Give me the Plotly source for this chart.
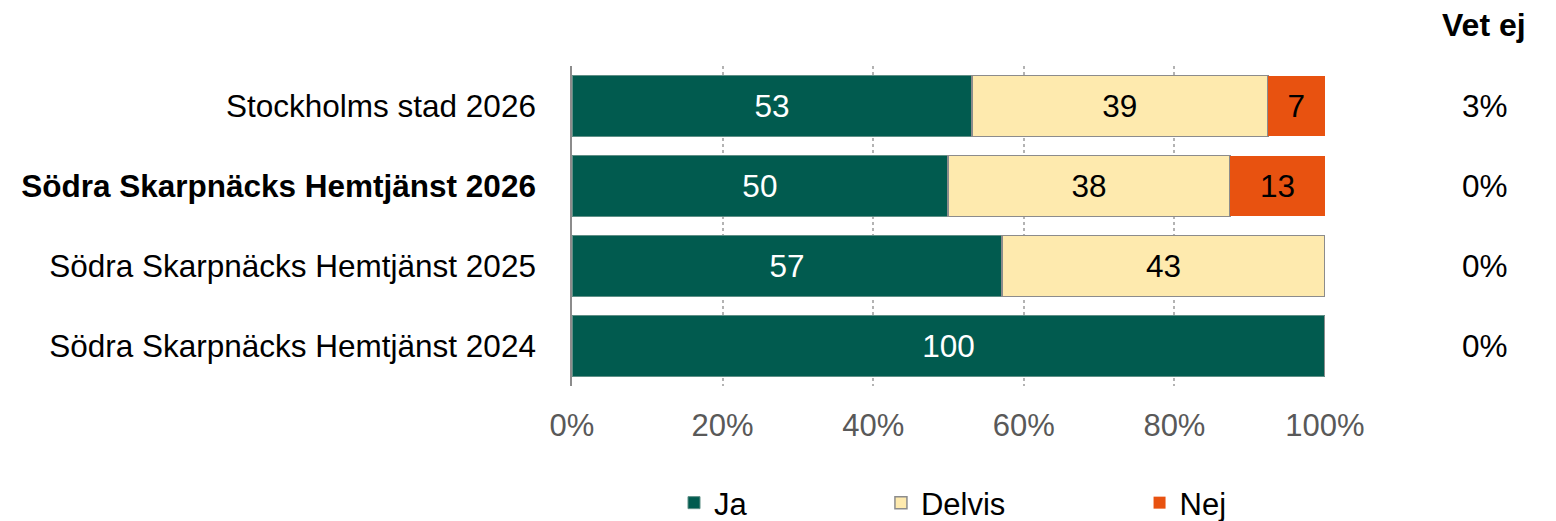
import plotly.graph_objects as go

categories = ["Stockholms stad 2026", "Södra Skarpnäcks Hemtjänst 2026",
              "Södra Skarpnäcks Hemtjänst 2025", "Södra Skarpnäcks Hemtjänst 2024"]
cat_labels = ["Stockholms stad 2026", "<b>Södra Skarpnäcks Hemtjänst 2026</b>",
              "Södra Skarpnäcks Hemtjänst 2025", "Södra Skarpnäcks Hemtjänst 2024"]
ja = [53.1, 49.9, 57.1, 100.0]
delvis = [39.3, 37.5, 42.9, 0.0]
nej = [7.6, 12.6, 0.0, 0.0]
ja_text = ["53", "50", "57", "100"]
delvis_text = ["39", "38", "43", ""]
nej_text = ["7", "13", "", ""]
vet_ej = ["3%", "0%", "0%", "0%"]
x_ticks = [0, 20, 40, 60, 80, 100]
x_ticktext = ["0%", "20%", "40%", "60%", "80%", "100%"]

FONT = "Liberation Sans, Arial, sans-serif"
NB = "\u00a0"

fig = go.Figure()
series = [
    ("Ja" + NB * 15, ja, ja_text, "#015B4F", "white", dict(color="#5f8f86", width=1)),
    ("Delvis" + NB * 15, delvis, delvis_text, "#FEEAAE", "black", dict(color="#8c8c8c", width=1.5)),
    ("Nej", nej, nej_text, "#E85210", "black", dict(color="#E85210", width=0)),
]
for name, vals, txt, col, tcol, line in series:
    fig.add_trace(go.Bar(
        y=categories, x=vals, name=name, orientation="h",
        marker=dict(color=col, line=line),
        text=txt, textposition="inside", insidetextanchor="middle",
        textfont=dict(family=FONT, size=31.5, color=tcol),
        constraintext="none", cliponaxis=False,
    ))

fig.update_layout(
    width=1556, height=521,
    barmode="stack", bargap=0.24,
    plot_bgcolor="white", paper_bgcolor="white",
    margin=dict(l=0, r=0, t=0, b=0, autoexpand=False),
    font=dict(family=FONT, size=31, color="black"),
    showlegend=True,
    legend=dict(orientation="h", x=674/1556, xanchor="left", y=1 - 503/521, yanchor="middle",
                font=dict(family=FONT, size=31, color="black"),
                traceorder="normal", itemwidth=30),
)
fig.update_xaxes(
    domain=[572/1556, 1325/1556], range=[0, 100], automargin=False,
    tickvals=x_ticks, ticktext=x_ticktext,
    tickfont=dict(family=FONT, size=31, color="#595959"),
    showgrid=True, gridcolor="#b3b3b3", griddash="dot", gridwidth=1.5,
    zeroline=False, showline=False,
    ticks="outside", ticklen=0, ticklabelstandoff=12,
    fixedrange=True,
)
fig.update_yaxes(
    domain=[1 - 386/521, 1 - 66/521], automargin=False,
    categoryorder="array", categoryarray=categories, autorange="reversed",
    tickvals=categories, ticktext=cat_labels,
    tickfont=dict(family=FONT, size=31.5, color="black"),
    showline=True, linecolor="#8c8c8c", linewidth=1.5,
    showgrid=False, ticks="", ticklabelstandoff=28,
)

fig.add_annotation(x=1484/1556, y=1 - 25/521, xref="paper", yref="paper",
                   xanchor="center", yanchor="middle",
                   text="<b>Vet ej</b>", showarrow=False,
                   font=dict(family=FONT, size=32, color="black"))
for cat, v in zip(categories, vet_ej):
    fig.add_annotation(x=1485/1556, y=cat, xref="paper", yref="y",
                       xanchor="center", yanchor="middle",
                       text=v, showarrow=False,
                       font=dict(family=FONT, size=31.5, color="black"))

fig.write_html("out.html", config={"displayModeBar": False},
               post_script="document.body.style.margin='0';document.body.style.overflow='hidden';")
